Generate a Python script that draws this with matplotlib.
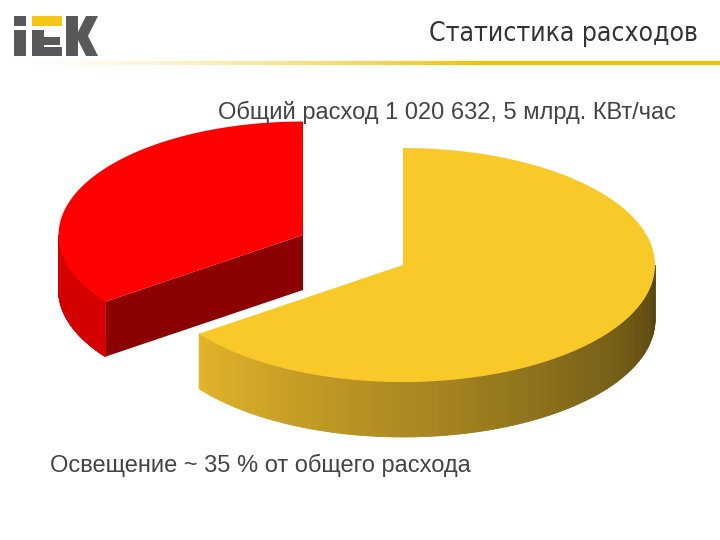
import numpy as np
import matplotlib
matplotlib.use("Agg")
import matplotlib.pyplot as plt
from matplotlib.patches import Polygon, Rectangle
from matplotlib.colors import to_rgb
from matplotlib import font_manager

labels = ["Освещение", "Прочее"]
shares = [35, 65]
title = "Статистика расходов"
subtitle = "Общий расход 1 020 632, 5 млрд. КВт/час"
footer = "Освещение ~ 35 % от общего расхода"

names = {f.name for f in font_manager.fontManager.ttflist}
narrow = "Liberation Sans Narrow" if "Liberation Sans Narrow" in names else "Liberation Sans"

fig = plt.figure(figsize=(7.2, 5.4), dpi=100)
ax = fig.add_axes([0, 0, 1, 1])
ax.set_xlim(0, 720); ax.set_ylim(540, 0); ax.axis("off")

grey = "#58595b"; gold = "#f5c518"
for (x, y, w, h, c) in [(14, 16, 12, 10, grey), (14, 30, 12, 26, grey),
                        (32, 16, 30, 10, gold), (32, 30, 12, 26, grey),
                        (44, 37, 16, 8, grey), (44, 47, 18, 9, grey)]:
    ax.add_patch(Rectangle((x, y), w, h, color=c, lw=0))
ax.add_patch(Polygon([(66, 16), (78, 16), (78, 32), (86, 16), (98, 16), (88, 36),
                      (98, 56), (86, 56), (78, 40), (78, 56), (66, 56)], color=grey, lw=0))
ax.text(698, 34, title, fontsize=19, color="#333333", ha="right", va="center",
        family="DejaVu Sans", fontstretch="condensed")
xs = np.linspace(0, 720, 200)
for i in range(len(xs) - 1):
    a = min(1, (xs[i] / 480) ** 1.5)
    ax.plot(xs[i:i+2], [63, 63], color="#f2c200", alpha=a, lw=3, solid_capstyle="butt")
ax.text(676, 112, subtitle, fontsize=17, color="#444444", ha="right", va="center", family=narrow)
ax.text(50, 465, footer, fontsize=17, color="#444444", ha="left", va="center", family=narrow)

rx, ry, depth = 252, 117, 55
def pt(c, t, d=0, sc=1.0):
    return (c[0] + rx * sc * np.cos(np.radians(t)), c[1] - ry * sc * np.sin(np.radians(t)) + d)

angles = []
a0 = 90
for s in shares:
    span = 360 * s / 100
    angles.append((a0, a0 + span))
    a0 += span
centers = [(303, 235), (403, 265)]
scales = [0.97, 1.0]
tops = ["#ff0000", "#f9c829"]
def side_col(i, t):
    if i == 0:
        return "#d40000"
    f = (t - 216) / 144
    c1, c2, c3 = np.array(to_rgb("#e2b42a")), np.array(to_rgb("#9b7c1e")), np.array(to_rgb("#54430f"))
    return tuple(c1 + (c2 - c1) * f * 2) if f < 0.5 else tuple(c2 + (c3 - c2) * (f - 0.5) * 2)

for i, (t0, t1) in enumerate(angles):
    c = centers[i]; sc = scales[i]
    if i == 0:
        e = pt(c, t1, sc=sc)
        ax.add_patch(Polygon([c, e, (e[0], e[1] + depth), (c[0], c[1] + depth)],
                             color="#8b0000", lw=0))
    lo, hi = max(t0, 180), min(t1, 360)
    if hi > lo:
        ts = np.linspace(lo, hi, 120)
        for k in range(len(ts) - 1):
            p1, p2 = pt(c, ts[k], sc=sc), pt(c, ts[k+1], sc=sc)
            ax.add_patch(Polygon([p1, p2, (p2[0], p2[1] + depth), (p1[0], p1[1] + depth)],
                                 color=side_col(i, ts[k]), lw=0.6))
    ts = np.linspace(t0, t1, 200)
    ax.add_patch(Polygon([c] + [pt(c, t, sc=sc) for t in ts], color=tops[i], lw=0))

fig.savefig("out.png", dpi=100, facecolor="white")
